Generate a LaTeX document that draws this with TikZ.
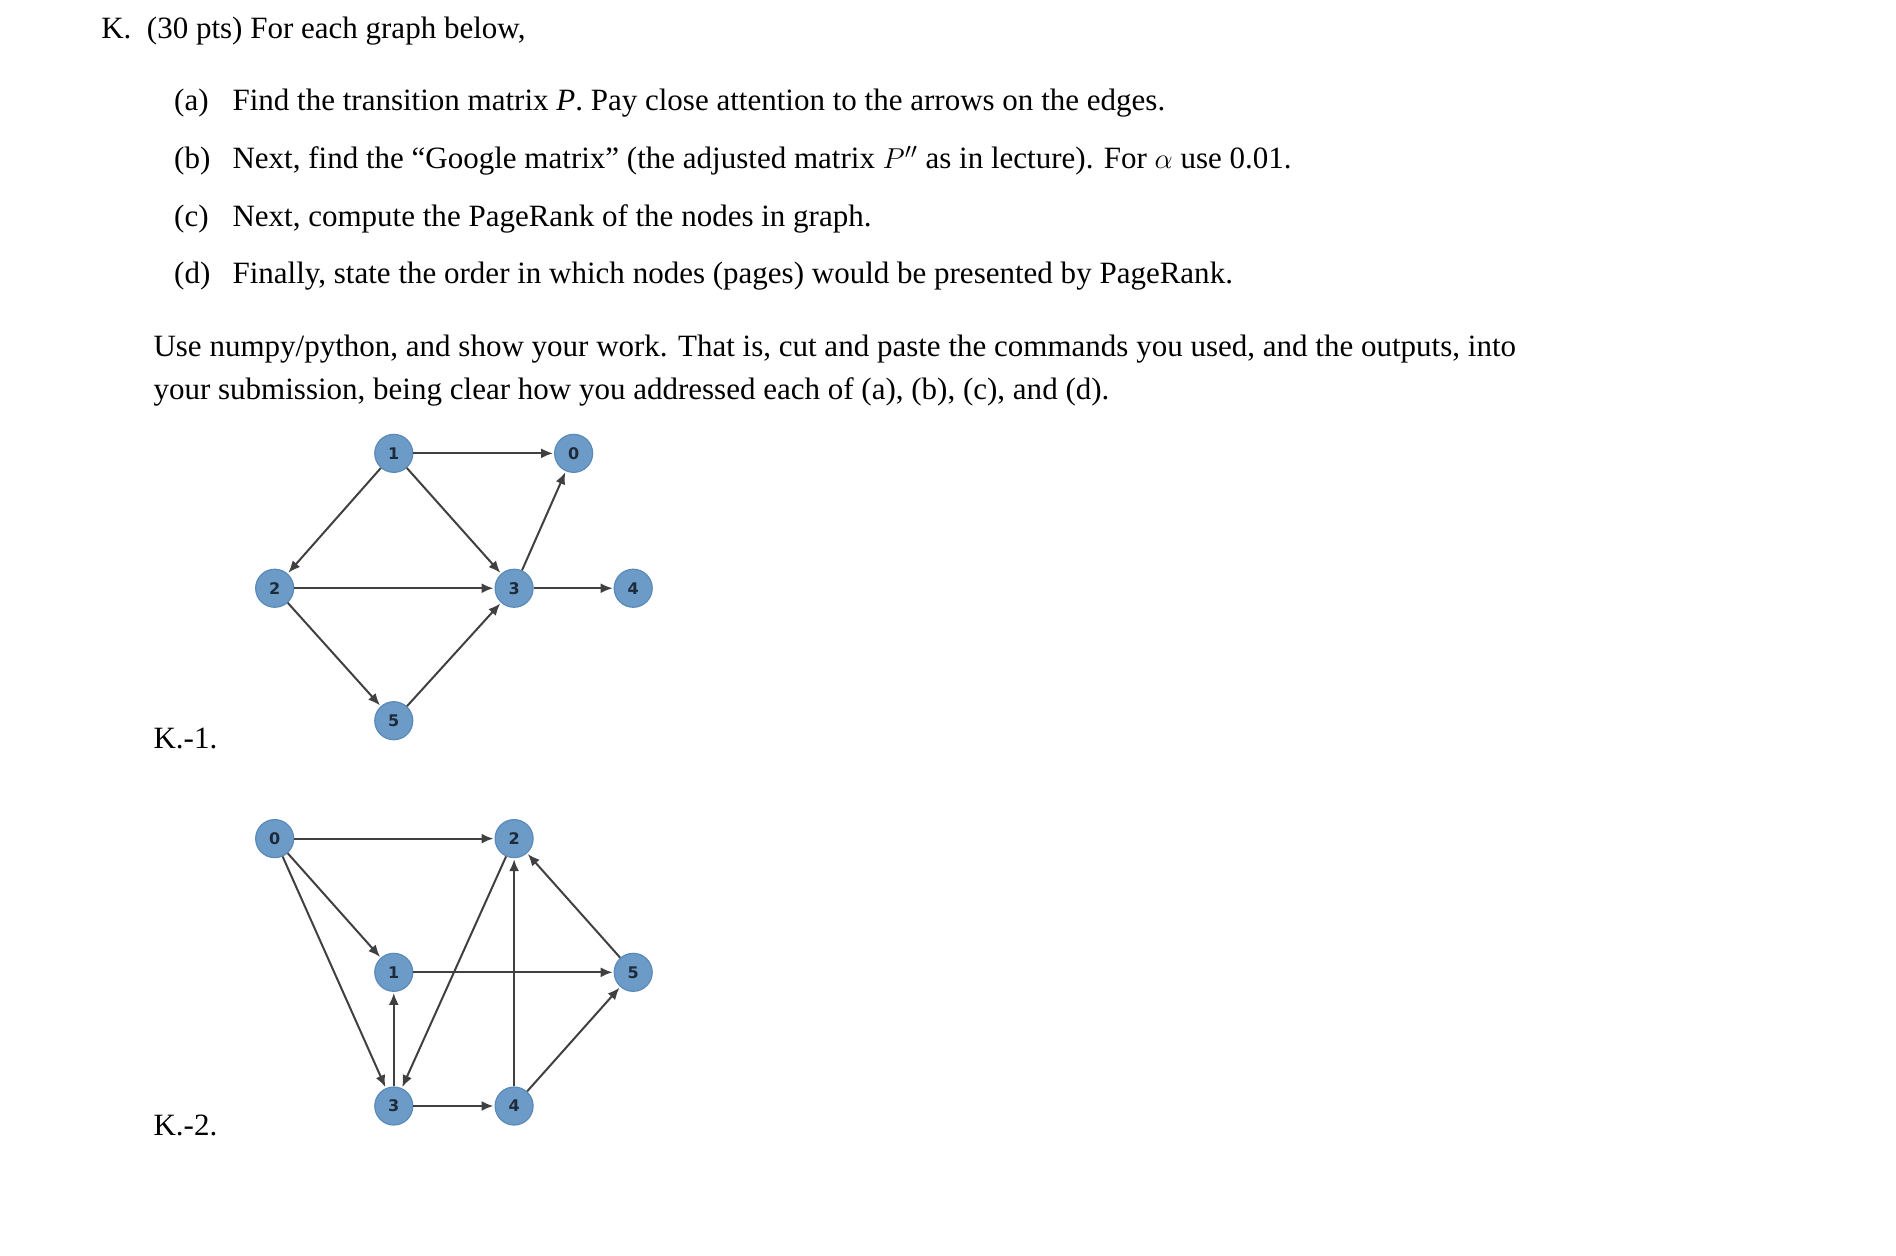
\documentclass[tikz,border=0pt]{standalone}
\usepackage{fontspec}
\setmainfont{Liberation Serif}
\setsansfont{DejaVu Sans}
\usetikzlibrary{arrows.meta}
\begin{document}
\begin{tikzpicture}[x=0.6075pt,y=-0.6075pt,
 vtx/.style={circle,fill=vfill,draw=vedge,line width=0.6pt,minimum size=19pt,inner sep=0pt,font=\sffamily\bfseries\fontsize{8}{8}\selectfont,text=vtext},
 edge/.style={-{Latex[length=6pt,width=5pt]},line width=1pt,draw=black!75,shorten >=0.5pt},
 txt/.style={anchor=base west,inner sep=0pt,font=\fontsize{15.5}{18}\selectfont}]
\definecolor{vfill}{HTML}{6C9BC8}
\definecolor{vedge}{HTML}{5A8AB8}
\definecolor{vtext}{HTML}{1E2A38}
\useasboundingbox (0,0) rectangle (1560,1033);
\node[txt] (h) at (83,32) {K.\ \ (30 pts) For each graph below,};
\node[txt] (la) at (143,91) {(a)};
\node[txt] (ta) at (191,91) {Find the transition matrix \textit{P}. Pay close attention to the arrows on the edges.};
\node[txt] (lb) at (143,139) {(b)};
\node[txt] (tb) at (191,139) {Next, find the “Google matrix” (the adjusted matrix $P''$ as in lecture). For $\alpha$ use 0.01.};
\node[txt] (lc) at (143,186) {(c)};
\node[txt] (tc) at (191,186) {Next, compute the PageRank of the nodes in graph.};
\node[txt] (ld) at (143,233) {(d)};
\node[txt] (td) at (191,233) {Finally, state the order in which nodes (pages) would be presented by PageRank.};
\node[txt] (p1) at (126,293) {Use numpy/python, and show your work. That is, cut and paste the commands you used, and the outputs, into};
\node[txt] (p2) at (126,329) {your submission, being clear how you addressed each of (a), (b), (c), and (d).};
\node[txt] (k1) at (126,616) {K.-1.};
\node[txt] (k2) at (126,934) {K.-2.};
% graph 1
\node[vtx] (a1) at (324,373) {1};
\node[vtx] (a0) at (472,373) {0};
\node[vtx] (a2) at (226,484) {2};
\node[vtx] (a3) at (423,484) {3};
\node[vtx] (a4) at (521,484) {4};
\node[vtx] (a5) at (324,593) {5};
\draw[edge] (a1)--(a0);
\draw[edge] (a1)--(a2);
\draw[edge] (a1)--(a3);
\draw[edge] (a2)--(a3);
\draw[edge] (a2)--(a5);
\draw[edge] (a5)--(a3);
\draw[edge] (a3)--(a0);
\draw[edge] (a3)--(a4);
% graph 2
\node[vtx] (b0) at (226,690) {0};
\node[vtx] (b2) at (423,690) {2};
\node[vtx] (b1) at (324,800) {1};
\node[vtx] (b5) at (521,800) {5};
\node[vtx] (b3) at (324,910) {3};
\node[vtx] (b4) at (423,910) {4};
\draw[edge] (b0)--(b2);
\draw[edge] (b0)--(b1);
\draw[edge] (b0)--(b3);
\draw[edge] (b1)--(b5);
\draw[edge] (b3)--(b1);
\draw[edge] (b2)--(b3);
\draw[edge] (b4)--(b2);
\draw[edge] (b5)--(b2);
\draw[edge] (b3)--(b4);
\draw[edge] (b4)--(b5);
\end{tikzpicture}
\end{document}
